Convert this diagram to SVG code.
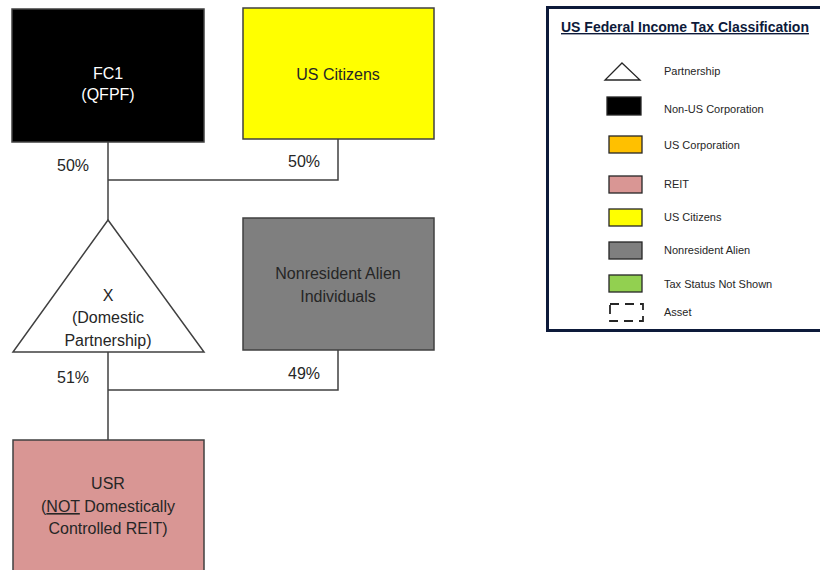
<svg xmlns="http://www.w3.org/2000/svg" width="820" height="570" viewBox="0 0 820 570">
<style>
.n{stroke:#404040;stroke-width:1.5}
.t{font-family:"Liberation Sans",Arial,sans-serif;font-size:16px;text-anchor:middle;fill:#262626}
.w{fill:#ffffff}
.c{fill:none;stroke:#404040;stroke-width:1.5}
.lg{stroke:#262626;stroke-width:1.3}
.lt{font-family:"Liberation Sans",Arial,sans-serif;font-size:11px;fill:#262626}
</style>
<rect width="820" height="570" fill="#ffffff"/>
<g id="connectors">
<path class="c" d="M108,142 V220"/>
<path class="c" d="M108,180 H338 V139"/>
<path class="c" d="M108,352 V440"/>
<path class="c" d="M108,390 H338 V350"/>
<text class="t" x="73" y="171">50%</text>
<text class="t" x="304" y="167">50%</text>
<text class="t" x="73" y="383">51%</text>
<text class="t" x="304" y="379">49%</text>
</g>
<g id="fc1">
<rect class="n" x="12" y="9" width="192" height="133" fill="#000000"/>
<text class="t w" x="108" y="79">FC1</text>
<text class="t w" x="108" y="100">(QFPF)</text>
</g>
<g id="uscitizens">
<rect class="n" x="243" y="8" width="191" height="131" fill="#ffff00"/>
<text class="t" x="338" y="80">US Citizens</text>
</g>
<g id="x">
<polygon class="n" points="108,220 204,352 13,352" fill="#ffffff"/>
<text class="t" x="108" y="301">X</text>
<text class="t" x="108" y="323">(Domestic</text>
<text class="t" x="108" y="346">Partnership)</text>
</g>
<g id="nra">
<rect class="n" x="243" y="218" width="191" height="132" fill="#7f7f7f"/>
<text class="t" x="338" y="279">Nonresident Alien</text>
<text class="t" x="338" y="302">Individuals</text>
</g>
<g id="usr">
<rect class="n" x="13" y="440" width="191" height="140" fill="#d99694"/>
<text class="t" x="108" y="489">USR</text>
<text class="t" x="108" y="512">(<tspan text-decoration="underline">NOT</tspan> Domestically</text>
<text class="t" x="108" y="534">Controlled REIT)</text>
</g>
<g id="legend">
<rect x="547.5" y="7.5" width="290" height="323" fill="#ffffff" stroke="#0d1a3a" stroke-width="3"/>
<text x="561" y="32" font-family="'Liberation Sans',Arial,sans-serif" font-size="14" font-weight="bold" fill="#0d1a3a" text-decoration="underline">US Federal Income Tax Classification</text>
<polygon class="lg" points="622,63 640,80 605,80" fill="#ffffff"/>
<text class="lt" x="664" y="75">Partnership</text>
<rect class="lg" x="607" y="97" width="34" height="18" fill="#000000"/>
<text class="lt" x="664" y="113">Non-US Corporation</text>
<rect class="lg" x="609" y="136" width="33" height="17" fill="#ffc000"/>
<text class="lt" x="664" y="149">US Corporation</text>
<rect class="lg" x="609" y="176" width="33" height="17" fill="#d99694"/>
<text class="lt" x="664" y="188">REIT</text>
<rect class="lg" x="609" y="209" width="33" height="17" fill="#ffff00"/>
<text class="lt" x="664" y="221">US Citizens</text>
<rect class="lg" x="609" y="242" width="33" height="17" fill="#7f7f7f"/>
<text class="lt" x="664" y="254">Nonresident Alien</text>
<rect class="lg" x="609" y="275" width="33" height="17" fill="#92d050"/>
<text class="lt" x="664" y="288">Tax Status Not Shown</text>
<rect x="610" y="304" width="33" height="17" fill="none" stroke="#262626" stroke-width="1.8" stroke-dasharray="9,6"/>
<text class="lt" x="664" y="316">Asset</text>
</g>
</svg>
